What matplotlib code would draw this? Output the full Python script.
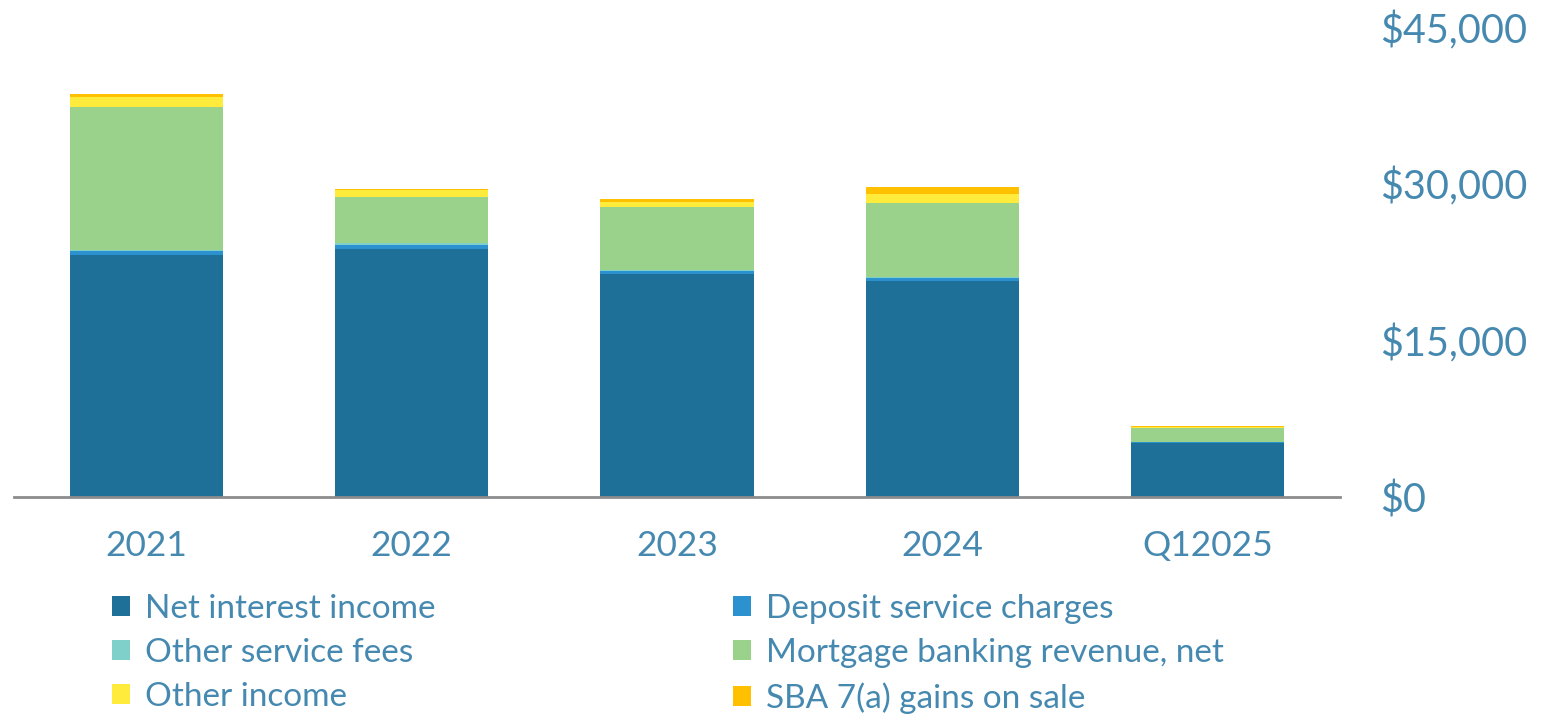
import matplotlib
matplotlib.use("Agg")
import matplotlib.pyplot as plt
from matplotlib.patches import Patch
import numpy as np

categories = ["2021", "2022", "2023", "2024", "Q12025"]
net_interest_income = [23150, 23750, 21350, 20700, 5150]
deposit_service_charges = [380, 350, 300, 290, 70]
other_service_fees = [80, 180, 100, 60, 20]
mortgage_banking = [13750, 4460, 6000, 7100, 1330]
other_income = [960, 670, 510, 890, 100]
sba_gains = [220, 120, 260, 640, 150]
ytick_vals = [0, 15000, 30000, 45000]
ytick_labels = ["$0", "$15,000", "$30,000", "$45,000"]

series = [
    ("Net interest income", net_interest_income, "#1F7099"),
    ("Deposit service charges", deposit_service_charges, "#2B92CF"),
    ("Other service fees", other_service_fees, "#7FD0CB"),
    ("Mortgage banking revenue, net", mortgage_banking, "#9AD18B"),
    ("Other income", other_income, "#FFEB3B"),
    ("SBA 7(a) gains on sale", sba_gains, "#FFC000"),
]

text_color = "#4689B0"
plt.rcParams['font.family'] = ['Lato', 'DejaVu Sans']

fig = plt.figure(figsize=(15.42, 7.14), dpi=100)
ax = fig.add_axes([14/1542, 1-497/714, (1340-14)/1542, (497-27)/714])

x = np.arange(len(categories))
bottom = np.zeros(len(categories))
handles = {}
for name, vals, col in series:
    v = np.array(vals, dtype=float)
    ax.bar(x, v, width=0.577, bottom=bottom, color=col, edgecolor="none", linewidth=0)
    bottom += v
    handles[name] = Patch(facecolor=col, edgecolor="none")

ax.set_xlim(-0.5, len(categories) - 0.5)
ax.set_ylim(0, 45000)
ax.yaxis.tick_right()
ax.set_yticks(ytick_vals)
ax.set_yticklabels(ytick_labels)
ax.set_xticks(x)
ax.set_xticklabels(categories)
ax.tick_params(axis="y", length=0, pad=29, labelsize=28.5, labelcolor=text_color)
ax.tick_params(axis="x", length=0, pad=24, labelsize=25.5, labelcolor=text_color)
for s in ["top", "right", "left"]:
    ax.spines[s].set_visible(False)
ax.spines["bottom"].set_color("#8C8C8C")
ax.spines["bottom"].set_linewidth(2)

col1 = ["Net interest income", "Other service fees", "Other income"]
col2 = ["Deposit service charges", "Mortgage banking revenue, net", "SBA 7(a) gains on sale"]
legkw = dict(frameon=False, handlelength=0.55, handleheight=0.55,
             handletextpad=0.45, labelspacing=0.42, loc="upper left", borderaxespad=0,
             borderpad=0, labelcolor=text_color, prop={'size': 24})
leg1 = fig.legend([handles[n] for n in col1], col1, bbox_to_anchor=(112/1542, 1-594/714), **legkw)
leg2 = fig.legend([handles[n] for n in col2], col2, bbox_to_anchor=(733/1542, 1-594/714), **legkw)

fig.savefig("out.png", dpi=100, facecolor="white")
